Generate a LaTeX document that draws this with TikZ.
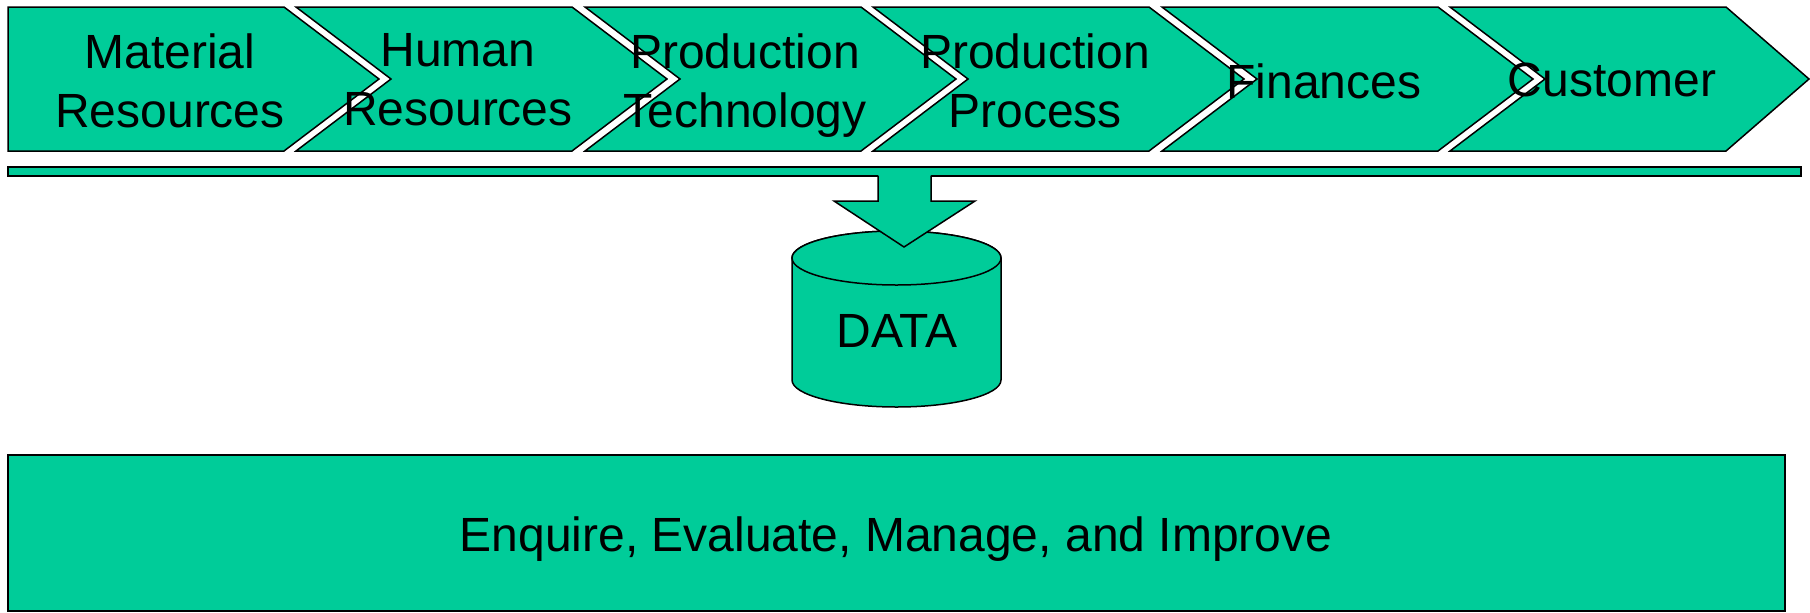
\documentclass[tikz,border=0pt]{standalone}
\usepackage{fontspec}
\setmainfont{Liberation Sans}
\usepackage{tikz}
\definecolor{boxgreen}{RGB}{0,204,153}

\begin{document}
\begin{tikzpicture}[x=0.5pt,y=0.5pt,yscale=-1,xscale=1,
  chev/.style={draw=black,fill=boxgreen,line width=0.75pt,line join=miter},
  lbl/.style={font=\fontsize{24}{29.5}\selectfont,align=center,inner sep=0pt,anchor=north}]
\useasboundingbox (0,0) rectangle (1810,612);

% Chevron
\draw[chev] (8,7) -- (284,7) -- (379,79) -- (284,151) -- (8,151) -- cycle ;
% Chevron
\draw[chev] (296,7) -- (572,7) -- (667,79) -- (572,151) -- (296,151) -- (391,79) -- cycle ;
% Chevron
\draw[chev] (585,7) -- (861,7) -- (956,79) -- (861,151) -- (585,151) -- (680,79) -- cycle ;
% Chevron
\draw[chev] (873,7) -- (1149,7) -- (1244,79) -- (1149,151) -- (873,151) -- (968,79) -- cycle ;
% Chevron
\draw[chev] (1162,7) -- (1438,7) -- (1533,79) -- (1438,151) -- (1162,151) -- (1257,79) -- cycle ;
% Chevron
\draw[chev] (1450,7) -- (1726,7) -- (1809,79) -- (1726,151) -- (1450,151) -- (1545,79) -- cycle ;

% Text Node
\node[lbl] (matres) at (170,33) {Material\\Resources};
% Text Node
\node[lbl] (humres) at (458,33) {Human\\Resources};
% Text Node
\node[lbl] (prodtech) at (745,33) {Production\\Technology};
% Text Node
\node[lbl] (prodproc) at (1035,33) {Production\\Process};
% Text Node
\node[lbl] (fin) at (1324,63) {Finances};
% Text Node
\node[lbl] (cust) at (1612,63) {Customer};

% Bar
\draw[chev] (8,167) rectangle (1801,176) ;

% Can
\draw[chev] (792,258) -- (792,380) arc[start angle=180,end angle=0,x radius=104.5,y radius=27] -- (1001,258) arc[start angle=0,end angle=-180,x radius=104.5,y radius=27] -- cycle ;
\draw[chev] (896.5,258) ellipse [x radius=104.5,y radius=27] ;
% Text Node
\node[lbl] (data) at (897,314) {DATA};

% Down Arrow
\fill[boxgreen] (878,169) -- (878,201) -- (834,201) -- (904,247) -- (975,201) -- (931,201) -- (931,169) -- cycle ;
\draw[line width=0.75pt,line join=miter] (878,175.5) -- (878,201) -- (834,201) -- (904,247) -- (975,201) -- (931,201) -- (931,175.5) ;

% Rectangle
\draw[chev] (8,455) rectangle (1785,611) ;
% Text Node
\node[lbl] (eval) at (896,516) {Enquire, Evaluate, Manage, and Improve};

\end{tikzpicture}
\end{document}
